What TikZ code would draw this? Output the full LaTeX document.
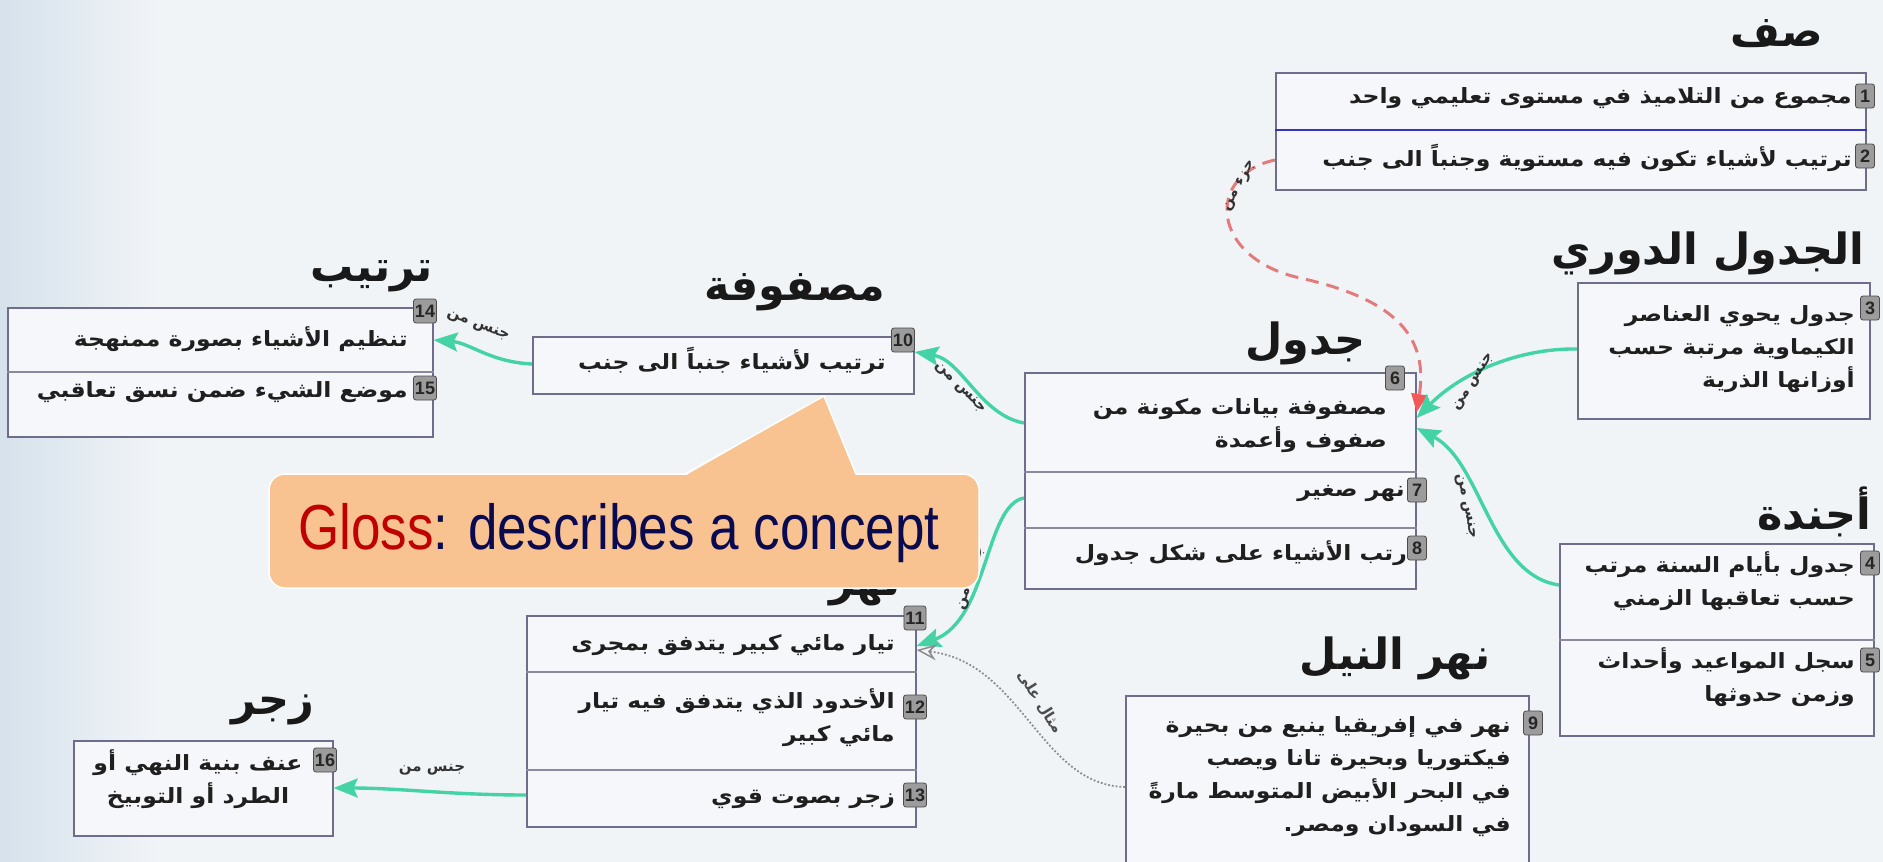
\documentclass[tikz,border=0pt]{standalone}
\usepackage{fontspec}
\usepackage{graphicx}
\usetikzlibrary{arrows.meta,calc}
\TeXXeTstate=1
\newfontfamily\arabicfont[Script=Arabic]{DejaVu Sans}
\setsansfont{Liberation Sans}
\newcommand{\arline}[1]{\beginR #1\endR}
\newcommand{\arwide}[1]{\scalebox{1.12}[1]{\beginR #1\endR}}

\definecolor{bgcol}{HTML}{F1F4F7}
\definecolor{bgedge}{HTML}{D6E2EC}
\definecolor{boxfill}{HTML}{F5F7FA}
\definecolor{boxline}{HTML}{6E6E8C}
\definecolor{rowline}{HTML}{8A8A9E}
\definecolor{saffline}{HTML}{3535C0}
\definecolor{badgefill}{HTML}{9C9C9C}
\definecolor{linkgreen}{HTML}{44D3A4}
\definecolor{partred}{HTML}{E27C7C}
\definecolor{partredtip}{HTML}{F25A5A}
\definecolor{calloutfill}{HTML}{F9C291}
\definecolor{glossred}{HTML}{C00000}
\definecolor{glossnavy}{HTML}{0A0A50}
\definecolor{exgray}{HTML}{8C8C8C}

\tikzset{
  conceptbox/.style={draw=boxline, line width=1.6pt, fill=boxfill, inner sep=0pt, anchor=north west},
  rowrule/.style={draw=rowline, line width=2pt},
  concepttitle/.style={font=\arabicfont\bfseries\fontsize{43}{46}\selectfont, inner sep=0pt, text=black!90},
  rowtext/.style={font=\arabicfont\bfseries\fontsize{21}{33}\selectfont, inner sep=0pt, align=right, anchor=east, text=black!88},
  badge/.style={fill=badgefill, draw=gray!60!black, line width=0.8pt, rounded corners=2.5pt, inner sep=1.5pt,
    minimum width=19pt, minimum height=24pt, font=\sffamily\bfseries\fontsize{18}{18}\selectfont, text=black!85},
  genuslink/.style={draw=linkgreen, line width=3.4pt, -{Stealth[length=24pt, width=19pt, inset=4pt, fill=linkgreen]}},
  examplelink/.style={draw=exgray, line width=1.8pt, dotted, -{Stealth[length=20pt, width=16pt, open, line width=1.5pt]}},
  partlink/.style={draw=partred, line width=3pt, dash pattern=on 13pt off 8pt, -{Triangle[length=18pt, width=16pt, color=partredtip]}},
  linklabel/.style={font=\arabicfont\bfseries\fontsize{15}{15}\selectfont, inner sep=0pt, text=black!80},
}

\begin{document}
\begin{tikzpicture}[x=1pt, y=-1pt]
\useasboundingbox (0,0) rectangle (1883,862);
% page background with a soft blue band on the left edge
\fill[bgcol] (0,0) rectangle (1883,862);
\shade[left color=bgedge, right color=bgcol] (0,0) rectangle (160,862);

% ---------- concept boxes ----------
\node[conceptbox, minimum width=590pt, minimum height=117pt] (saff) at (1275,72) {};
\node[conceptbox, minimum width=292pt, minimum height=136pt] (dawri) at (1577,282) {};
\node[conceptbox, minimum width=391pt, minimum height=216pt] (jadwal) at (1024,372) {};
\node[conceptbox, minimum width=381pt, minimum height=57pt] (masfufa) at (532,336) {};
\node[conceptbox, minimum width=425pt, minimum height=129pt] (tartib) at (7,307) {};
\node[conceptbox, minimum width=314pt, minimum height=192pt] (ajenda) at (1559,543) {};
\node[conceptbox, minimum width=403pt, minimum height=170pt] (nil) at (1125,695) {};
\node[conceptbox, minimum width=389pt, minimum height=211pt] (nahr) at (526,615) {};
\node[conceptbox, minimum width=259pt, minimum height=95pt] (zajr) at (73,740) {};

% row separators
\draw[draw=saffline, line width=2pt] (saff.west |- 0,130) -- (saff.east |- 0,130);
\draw[rowrule] (jadwal.west |- 0,472) -- (jadwal.east |- 0,472);
\draw[rowrule] (jadwal.west |- 0,528) -- (jadwal.east |- 0,528);
\draw[rowrule] (tartib.west |- 0,372) -- (tartib.east |- 0,372);
\draw[rowrule] (ajenda.west |- 0,640) -- (ajenda.east |- 0,640);
\draw[rowrule] (nahr.west |- 0,672) -- (nahr.east |- 0,672);
\draw[rowrule] (nahr.west |- 0,770) -- (nahr.east |- 0,770);

% ---------- titles ----------
\node[concepttitle] (tsaff) at (1777,34) {\arline{صف}};
\node[concepttitle] (tdawri) at (1708,253) {\arline{الجدول الدوري}};
\node[concepttitle] (tjadwal) at (1305,343) {\arline{جدول}};
\node[concepttitle] (tmasfufa) at (795,292) {\arline{مصفوفة}};
\node[concepttitle] (ttartib) at (372,276) {\arline{ترتيب}};
\node[concepttitle] (tajenda) at (1814,512) {\arline{أجندة}};
\node[concepttitle] (tnil) at (1395,658) {\arline{نهر النيل}};
\node[concepttitle] (tnahr) at (865,590) {\arline{نهر}};
\node[concepttitle] (tzajr) at (273,710) {\arline{زجر}};

% ---------- meanings ----------
\node[rowtext] (m1) at (1852,98) {\arwide{مجموع من التلاميذ في مستوى تعليمي واحد}};
\node[rowtext] (m2) at (1852,158) {\arwide{ترتيب لأشياء تكون فيه مستوية وجنباً الى جنب}};
\node[rowtext] (m3) at (1855,349) {\arwide{جدول يحوي العناصر}\\\arwide{الكيماوية مرتبة حسب}\\\arwide{أوزانها الذرية}};
\node[rowtext] (m4) at (1855,581) {\arwide{جدول بأيام السنة مرتب}\\\arwide{حسب تعاقبها الزمني}};
\node[rowtext] (m5) at (1855,677) {\arwide{سجل المواعيد وأحداث}\\\arwide{وزمن حدوثها}};
\node[rowtext] (m6) at (1387,426) {\arwide{مصفوفة بيانات مكونة من}\\\arwide{صفوف وأعمدة}};
\node[rowtext] (m7) at (1405,494) {\arwide{نهر صغير}};
\node[rowtext] (m8) at (1407,553) {\arwide{رتب الأشياء على شكل جدول}};
\node[rowtext] (m9) at (1511,777) {\arwide{نهر في إفريقيا ينبع من بحيرة}\\\arwide{فيكتوريا وبحيرة تانا ويصب}\\\arwide{في البحر الأبيض المتوسط مارةً}\\\arwide{في السودان ومصر.}};
\node[rowtext] (m10) at (886,361) {\arwide{ترتيب لأشياء جنباً الى جنب}};
\node[rowtext] (m11) at (895,645) {\arwide{تيار مائي كبير يتدفق بمجرى}};
\node[rowtext] (m12) at (895,718) {\arwide{الأخدود الذي يتدفق فيه تيار}\\\arwide{مائي كبير}};
\node[rowtext] (m13) at (895,799) {\arwide{زجر بصوت قوي}};
\node[rowtext] (m14) at (408,339) {\arwide{تنظيم الأشياء بصورة ممنهجة}};
\node[rowtext] (m15) at (408,392) {\arwide{موضع الشيء ضمن نسق تعاقبي}};
\node[rowtext, align=center, anchor=center] (m16) at (198,779) {\arwide{عنف بنية النهي أو}\\\arwide{الطرد أو التوبيخ}};

% ---------- numbered badges ----------
\node[badge] (b1) at (1865,96) {1};
\node[badge] (b2) at (1865,156) {2};
\node[badge] (b3) at (1870,308) {3};
\node[badge] (b4) at (1870,563) {4};
\node[badge] (b5) at (1870,660) {5};
\node[badge] (b6) at (1395,378) {6};
\node[badge] (b7) at (1417,490) {7};
\node[badge] (b8) at (1417,548) {8};
\node[badge] (b9) at (1533,723) {9};
\node[badge] (b10) at (903,340) {10};
\node[badge] (b11) at (915,618) {11};
\node[badge] (b12) at (915,707) {12};
\node[badge] (b13) at (915,795) {13};
\node[badge] (b14) at (425,311) {14};
\node[badge] (b15) at (425,388) {15};
\node[badge] (b16) at (325,760) {16};

% ---------- links ----------
\draw[partlink] (saff.west |- 0,160) .. controls (1205,175) and (1210,258) .. (1300,278)
  .. controls (1400,300) and (1428,340) .. (jadwal.east |- 0,412);
\draw[genuslink] (dawri.west |- 0,349) .. controls (1520,348) and (1462,372) .. (jadwal.east |- 0,418);
\draw[genuslink] (ajenda.west |- 0,585) .. controls (1490,575) and (1482,462) .. (jadwal.east |- 0,428);
\draw[genuslink] (jadwal.west |- 0,423) .. controls (980,415) and (962,360) .. (masfufa.east |- 0,352);
\draw[genuslink] (masfufa.west |- 0,364) .. controls (490,362) and (470,343) .. (tartib.east |- 0,340);
\draw[genuslink] (jadwal.west |- 0,498) .. controls (985,505) and (988,620) .. (nahr.east |- 0,646);
\draw[genuslink] (nahr.west |- 0,795) .. controls (450,795) and (400,788) .. (zajr.east |- 0,788);
\draw[examplelink] (nil.west |- 0,787) .. controls (1040,785) and (1022,662) .. (nahr.east |- 0,650);

\node[linklabel, rotate=62] (lpart) at (1240,186) {\arline{جزء من}};
\node[linklabel, rotate=58] (l1) at (1474,382) {\arline{جنس من}};
\node[linklabel, rotate=-78] (l2) at (1466,506) {\arline{جنس من}};
\node[linklabel, rotate=-45] (l3) at (960,388) {\arline{جنس من}};
\node[linklabel, rotate=-22] (l4) at (478,326) {\arline{جنس من}};
\node[linklabel, rotate=72] (l5) at (972,578) {\arline{جنس من}};
\node[linklabel] (l6) at (432,770) {\arline{جنس من}};
\node[linklabel, rotate=-58, text=black!70] (l7) at (1040,702) {\arline{مثال على}};

% ---------- callout ----------
\draw[fill=calloutfill, draw=white, line width=1.5pt, rounded corners=16pt] (269,474) rectangle (979,588);
\fill[calloutfill] (685,476) -- (824,396) -- (856,476) -- cycle;
\draw[white, line width=1.5pt] (685,474) -- (824,396) -- (856,474);
\node[anchor=base west, inner sep=0pt, font=\sffamily\fontsize{53}{53}\selectfont, yscale=1.2, transform shape] (gloss) at (298,549)
  {\textcolor{glossred}{Gloss}\textcolor{glossnavy}{: describes a concept}};
\end{tikzpicture}
\end{document}
